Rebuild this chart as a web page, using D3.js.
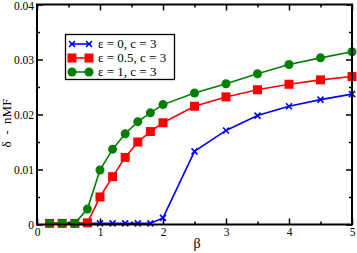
<!DOCTYPE html>
<html lang="en">
<head>
<meta charset="UTF-8">
<script src="https://cdn.jsdelivr.net/npm/d3@7/dist/d3.min.js"></script>
<style>
  body { margin: 0; background: #fff; }
</style>
</head>
<body>
<script>
    const width = 357;
    const height = 253;
    const margin = { top: 4.5, right: 5, bottom: 28.5, left: 37 };
    const serif = '"Liberation Serif", "DejaVu Serif", serif';

    // 数据
    const betaLow = [0.2, 0.4, 0.6, 0.8, 1.0, 1.2, 1.4, 1.6, 1.8, 2.0, 2.5, 3.0, 3.5, 4.0, 4.5, 5.0];
    const eps0 = [0.0002, 0.0002, 0.0002, 0.0002, 0.0002, 0.0002, 0.0002, 0.0002, 0.0002, 0.0012, 0.0133, 0.0171, 0.0198, 0.0215, 0.0227, 0.0237];
    const eps05 = [0.0002, 0.0002, 0.0002, 0.0003, 0.0050, 0.0087, 0.0122, 0.0150, 0.0169, 0.0185, 0.0215, 0.0232, 0.0245, 0.0255, 0.0263, 0.0269];
    const eps1 = [0.0002, 0.0002, 0.0002, 0.0028, 0.0099, 0.0137, 0.0165, 0.0187, 0.0203, 0.0218, 0.0239, 0.0256, 0.0274, 0.0291, 0.0303, 0.0314];
    const seriesNames = ['ε = 0, c = 3', 'ε = 0.5, c = 3', 'ε = 1, c = 3'];
    const seriesColors = ['#0000ff', '#ff0000', '#008000'];
    const seriesMarks = ['cross', 'square', 'circle'];
    const xTicks = [0, 1, 2, 3, 4, 5];
    const yTicks = [0, 0.01, 0.02, 0.03, 0.04];

    const svg = d3.select('body').append('svg')
        .attr('width', width)
        .attr('height', height)
        .style('font-family', serif);

    const x = d3.scaleLinear().domain([0, 5]).range([margin.left, width - margin.right]);
    const y = d3.scaleLinear().domain([0, 0.04]).range([height - margin.bottom, margin.top]);

    const series = [eps0, eps05, eps1].map((vals, i) => ({
        name: seriesNames[i],
        color: seriesColors[i],
        mark: seriesMarks[i],
        points: vals.map((v, j) => ({ b: betaLow[j], v: v }))
    }));

    function drawMarker(g, type, color, cx, cy) {
        if (type === 'circle') {
            g.append('circle').attr('cx', cx).attr('cy', cy).attr('r', 4.5).attr('fill', color);
        } else if (type === 'square') {
            g.append('rect').attr('x', cx - 4.5).attr('y', cy - 4.5).attr('width', 9).attr('height', 9).attr('fill', color);
        } else {
            g.append('path')
                .attr('d', `M${cx - 3},${cy - 3}L${cx + 3},${cy + 3}M${cx - 3},${cy + 3}L${cx + 3},${cy - 3}`)
                .attr('stroke', color).attr('stroke-width', 1.6);
        }
    }

    // 线和点
    const line = d3.line().x(d => x(d.b)).y(d => y(d.v));
    const plot = svg.append('g');
    series.forEach(s => {
        plot.append('path')
            .datum(s.points)
            .attr('d', line)
            .attr('fill', 'none')
            .attr('stroke', s.color)
            .attr('stroke-width', 1.6);
        const mg = plot.append('g');
        s.points.forEach(p => drawMarker(mg, s.mark, s.color, x(p.b), y(p.v)));
    });

    // 坐标轴 (ticks inward, mirrored)
    const minorX = [0.5, 1.5, 2.5, 3.5, 4.5];
    const minorY = [0.005, 0.015, 0.025, 0.035];
    svg.append('g').attr('transform', `translate(0,${y(0)})`)
        .call(d3.axisBottom(x).tickValues(xTicks).tickSize(-6).tickPadding(3).tickFormat(d3.format('d')));
    svg.append('g').attr('transform', `translate(0,${y(0)})`)
        .call(d3.axisBottom(x).tickValues(minorX).tickSize(-3).tickFormat(''));
    svg.append('g').attr('transform', `translate(0,${y(0.04)})`)
        .call(d3.axisTop(x).tickValues(xTicks).tickSize(-6).tickFormat(''));
    svg.append('g').attr('transform', `translate(0,${y(0.04)})`)
        .call(d3.axisTop(x).tickValues(minorX).tickSize(-3).tickFormat(''));

    svg.append('g').attr('transform', `translate(${x(0)},0)`)
        .call(d3.axisLeft(y).tickValues(yTicks).tickSize(-6).tickPadding(3).tickFormat(d => d === 0 ? '0' : d3.format('.2f')(d)));
    svg.append('g').attr('transform', `translate(${x(0)},0)`)
        .call(d3.axisLeft(y).tickValues(minorY).tickSize(-3).tickFormat(''));
    svg.append('g').attr('transform', `translate(${x(5)},0)`)
        .call(d3.axisRight(y).tickValues(yTicks).tickSize(-6).tickFormat(''));
    svg.append('g').attr('transform', `translate(${x(5)},0)`)
        .call(d3.axisRight(y).tickValues(minorY).tickSize(-3).tickFormat(''));

    svg.selectAll('.domain').remove();
    svg.selectAll('.tick line').attr('stroke', '#000').attr('stroke-width', 1.5);
    svg.selectAll('.tick text').attr('fill', '#000')
        .style('font-family', serif).style('font-size', '11.5px');
    // top label sits against the edge like the reference; nudge it in
    svg.selectAll('.tick text').filter(d => d === 0.04).attr('dy', '0.45em');

    // 边框
    svg.append('rect')
        .attr('x', x(0)).attr('y', y(0.04))
        .attr('width', x(5) - x(0)).attr('height', y(0) - y(0.04))
        .attr('fill', 'none').attr('stroke', '#000').attr('stroke-width', 2);

    // 轴标签
    svg.append('text')
        .attr('x', 197).attr('y', 248)
        .attr('text-anchor', 'middle').attr('font-size', 14)
        .text('β');
    svg.append('text')
        .attr('transform', `translate(11,123) rotate(-90)`)
        .attr('text-anchor', 'middle').attr('font-size', 13)
        .style('white-space', 'pre')
        .text('δ  -  nMF');

    // 图例
    const lg = svg.append('g');
    lg.append('rect')
        .attr('x', 65.5).attr('y', 34.5).attr('width', 109).attr('height', 45)
        .attr('fill', '#fff').attr('stroke', '#000').attr('stroke-width', 1.3);
    series.forEach((s, i) => {
        const cy = 44 + i * 14;
        lg.append('line').attr('x1', 70).attr('x2', 91).attr('y1', cy).attr('y2', cy)
            .attr('stroke', s.color).attr('stroke-width', 1.6);
        drawMarker(lg, s.mark, s.color, 72, cy);
        drawMarker(lg, s.mark, s.color, 89, cy);
        lg.append('text').attr('x', 98).attr('y', cy + 4)
            .style('font-size', '13px').text(s.name);
    });
</script>
</body>
</html>
